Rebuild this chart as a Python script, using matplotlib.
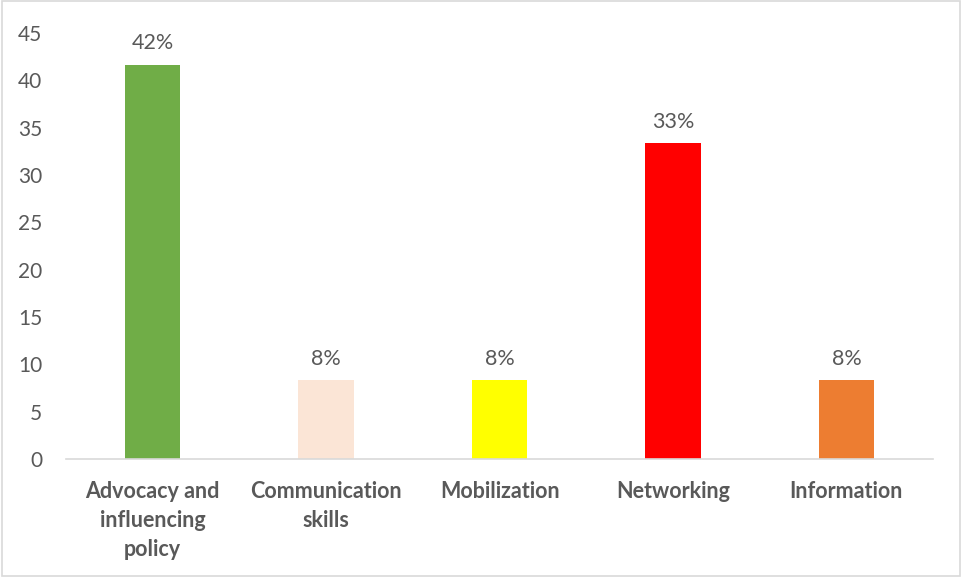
import matplotlib.pyplot as plt
from matplotlib.patches import Rectangle

# data
categories = ["Advocacy and\ninfluencing\npolicy", "Communication\nskills", "Mobilization",
              "Networking", "Information"]
values = [41.67, 8.33, 8.33, 33.33, 8.33]
labels = ["42%", "8%", "8%", "33%", "8%"]
colors = ["#70AD47", "#FBE5D6", "#FFFF00", "#FF0000", "#ED7D31"]
yticks = [0, 5, 10, 15, 20, 25, 30, 35, 40, 45]

plt.rcParams['font.family'] = ['Lato', 'DejaVu Sans']
txt = '#595959'

fig = plt.figure(figsize=(9.62, 5.77), dpi=100)
ax = fig.add_axes([0.0686, 0.2045, 0.9014, 0.7383])

x = range(len(categories))
bars = ax.bar(x, values, width=0.32, color=colors)
for b, lab in zip(bars, labels):
    ax.annotate(lab, (b.get_x() + b.get_width() / 2, b.get_height()),
                xytext=(0, 8), textcoords='offset points', ha='center', va='bottom',
                fontsize=15.5, color=txt)

ax.set_xlim(-0.5, len(categories) - 0.5)
ax.set_ylim(0, 45)
ax.set_yticks(yticks)
ax.set_xticks(list(x))
ax.set_xticklabels(categories, fontsize=15.5, fontweight='bold', color=txt, linespacing=1.45)
ax.tick_params(axis='y', length=0, labelsize=15, labelcolor=txt, pad=17)
ax.tick_params(axis='x', length=0, pad=16)
for s in ['top', 'right', 'left']:
    ax.spines[s].set_visible(False)
ax.spines['bottom'].set_color('#D9D9D9')
ax.spines['bottom'].set_linewidth(1.2)

fig.patches.append(Rectangle((0.002, 0.002), 0.996, 0.996, transform=fig.transFigure,
                             fill=False, edgecolor='#D9D9D9', linewidth=1.2))

fig.savefig('out.png', dpi=100)
